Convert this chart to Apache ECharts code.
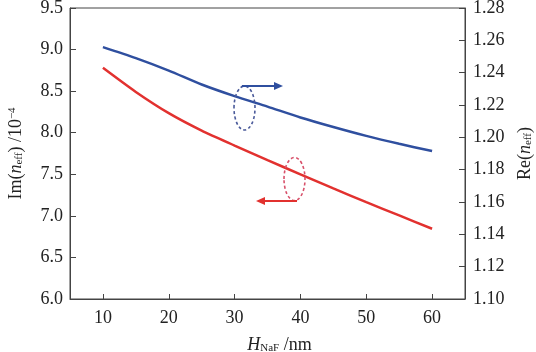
<!DOCTYPE html>
<html>
<head>
<meta charset="utf-8">
<script src="https://cdn.jsdelivr.net/npm/echarts@6/dist/echarts.min.js"></script>
<style>html,body{margin:0;padding:0;background:#fff}#c{width:536px;height:352px}</style>
</head>
<body>
<div id="c"></div>
<script>
// Data
const thickness = [10, 15, 20, 25, 30, 35, 40, 45, 50, 55, 60];           // H_NaF / nm
const imNeff = [8.78, 8.49, 8.235, 8.025, 7.845, 7.67, 7.50, 7.33, 7.165, 7.005, 6.845]; // Im(n_eff) / 1e-4
const reNeff = [1.2558, 1.2490, 1.2413, 1.2327, 1.2255, 1.2190, 1.2123, 1.2064, 1.2009, 1.1960, 1.1915]; // Re(n_eff)
const xTicks = [10, 20, 30, 40, 50, 60];

const FONT = '"Liberation Serif", "DejaVu Serif", serif';
const TXT = '#222';
const AX = '#444';
const BLUE = '#2f4f9f';
const RED = '#e2312f';

const chart = echarts.init(document.getElementById('c'));
const dash = [3, 2.5];
chart.setOption({
  animation: false,
  backgroundColor: '#fff',
  grid: { left: 70, right: 71, top: 8, bottom: 53, outerBoundsMode: 'none', containLabel: false,
          show: true, borderColor: AX, borderWidth: 1, backgroundColor: 'transparent' },
  xAxis: {
    type: 'value', min: 5, max: 65,
    axisLine: { show: true, lineStyle: { color: AX, width: 1 } },
    axisTick: { show: true, inside: true, length: 5, lineStyle: { color: AX }, customValues: xTicks },
    axisLabel: { customValues: xTicks, color: TXT, fontFamily: FONT, fontSize: 18, margin: 10 },
    splitLine: { show: false },
    name: '{i|H}{s|NaF}{t| /nm}',
    nameLocation: 'middle', nameGap: 37,
    nameTextStyle: {
      color: TXT, fontFamily: FONT, fontSize: 18, padding: [0, 0, 0, 24],
      rich: {
        i: { fontFamily: FONT, fontStyle: 'italic', fontSize: 18, color: TXT },
        s: { fontFamily: FONT, fontSize: 11, color: TXT, verticalAlign: 'bottom', padding: [7, 0, 0, 0] },
        t: { fontFamily: FONT, fontSize: 18, color: TXT }
      }
    }
  },
  yAxis: [
    {
      type: 'value', min: 6.0, max: 9.5, interval: 0.5, position: 'left',
      axisLine: { show: true, lineStyle: { color: AX } },
      axisTick: { show: true, inside: true, length: 6, lineStyle: { color: AX } },
      axisLabel: { color: TXT, fontFamily: FONT, fontSize: 18, margin: 7, formatter: v => v.toFixed(1) },
      splitLine: { show: false },
      name: '{t|Im(}{i|n}{s|eff}{t|) /10}{p|−4}',
      nameLocation: 'middle', nameRotate: 90, nameGap: 45,
      nameTextStyle: {
        color: TXT, fontFamily: FONT, fontSize: 18,
        rich: {
          t: { fontFamily: FONT, fontSize: 18, color: TXT },
          i: { fontFamily: FONT, fontStyle: 'italic', fontSize: 18, color: TXT },
          s: { fontFamily: FONT, fontSize: 11, color: TXT, verticalAlign: 'bottom', padding: [7, 0, 0, 0] },
          p: { fontFamily: FONT, fontSize: 11, color: TXT, verticalAlign: 'top', padding: [0, 0, 7, 0] }
        }
      }
    },
    {
      type: 'value', min: 1.10, max: 1.28, interval: 0.02, position: 'right',
      axisLine: { show: true, lineStyle: { color: AX } },
      axisTick: { show: true, inside: true, length: 6, lineStyle: { color: AX } },
      axisLabel: { color: TXT, fontFamily: FONT, fontSize: 18, margin: 8, formatter: v => v.toFixed(2) },
      splitLine: { show: false },
      name: '{t|Re(}{i|n}{s|eff}{t|)}',
      nameLocation: 'middle', nameRotate: 90, nameGap: 51,
      nameTextStyle: {
        color: TXT, fontFamily: FONT, fontSize: 18,
        rich: {
          t: { fontFamily: FONT, fontSize: 18, color: TXT },
          i: { fontFamily: FONT, fontStyle: 'italic', fontSize: 18, color: TXT },
          s: { fontFamily: FONT, fontSize: 11, color: TXT, verticalAlign: 'bottom', padding: [7, 0, 0, 0] }
        }
      }
    }
  ],
  series: [
    {
      name: 'Im', type: 'line', yAxisIndex: 0, smooth: 0.25, showSymbol: false,
      data: thickness.map((x, i) => [x, imNeff[i]]),
      lineStyle: { color: RED, width: 2.5 }, itemStyle: { color: RED }
    },
    {
      name: 'Re', type: 'line', yAxisIndex: 1, smooth: 0.25, showSymbol: false,
      data: thickness.map((x, i) => [x, reNeff[i]]),
      lineStyle: { color: BLUE, width: 2.5 }, itemStyle: { color: BLUE }
    }
  ],
  graphic: [
    // blue annotation: ellipse + arrow to the right
    { type: 'ellipse', shape: { cx: 244.5, cy: 108, rx: 10.5, ry: 22 }, style: { fill: 'none', stroke: '#4a5a9a', lineWidth: 1.6, lineDash: dash }, z: 10 },
    { type: 'line', shape: { x1: 242, y1: 86, x2: 276, y2: 86 }, style: { stroke: BLUE, lineWidth: 1.8 }, z: 10 },
    { type: 'polygon', shape: { points: [[283, 86], [274, 82], [274, 90]] }, style: { fill: BLUE }, z: 10 },
    // red annotation: ellipse + arrow to the left
    { type: 'ellipse', shape: { cx: 294.5, cy: 179, rx: 10.5, ry: 21.5 }, style: { fill: 'none', stroke: '#d8506a', lineWidth: 1.6, lineDash: dash }, z: 10 },
    { type: 'line', shape: { x1: 297, y1: 201, x2: 264, y2: 201 }, style: { stroke: RED, lineWidth: 1.8 }, z: 10 },
    { type: 'polygon', shape: { points: [[256, 201], [265, 197], [265, 205]] }, style: { fill: RED }, z: 10 }
  ]
});
</script>
</body>
</html>
